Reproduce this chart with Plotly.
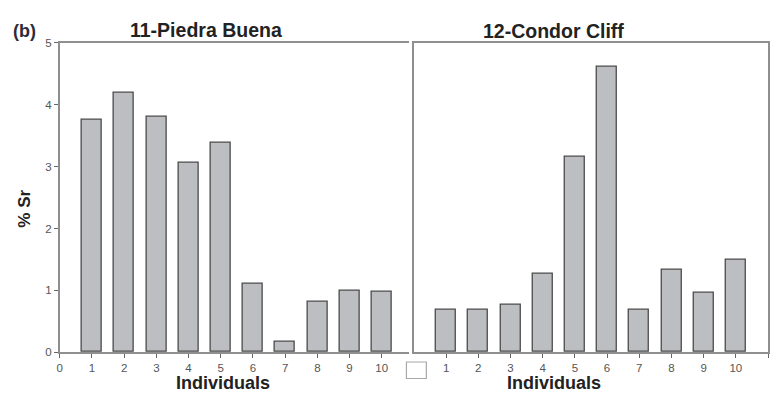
import plotly.graph_objects as go

individuals = [1, 2, 3, 4, 5, 6, 7, 8, 9, 10]
piedra_buena = [3.75, 4.20, 3.80, 3.06, 3.38, 1.10, 0.17, 0.82, 1.00, 0.98]
condor_cliff = [0.69, 0.69, 0.77, 1.26, 3.15, 4.61, 0.69, 1.33, 0.96, 1.49]
left_ticks = [0, 1, 2, 3, 4, 5, 6, 7, 8, 9, 10]
right_ticks = [1, 2, 3, 4, 5, 6, 7, 8, 9, 10, 11]
y_ticks = [0, 1, 2, 3, 4, 5]

W, H = 773, 400
BAR_FILL = "#bdbec2"
BAR_LINE = "#4a4a4a"
AXIS = "#8f8f8f"
TICKFONT = dict(family="Liberation Sans, Arial, sans-serif", size=11.5, color="#555555")
BOLD = "Liberation Sans, Arial, sans-serif"

def px(x):
    return x / W

def py(y):
    return 1 - y / H

fig = go.Figure()
fig.add_trace(go.Bar(x=individuals, y=piedra_buena, width=0.62,
                     marker=dict(color=BAR_FILL, line=dict(color=BAR_LINE, width=1.3)),
                     xaxis="x", yaxis="y", showlegend=False))
fig.add_trace(go.Bar(x=individuals, y=condor_cliff, width=0.62,
                     marker=dict(color=BAR_FILL, line=dict(color=BAR_LINE, width=1.3)),
                     xaxis="x2", yaxis="y2", showlegend=False))

ydom = [py(357), py(38)]
fig.update_layout(
    width=W, height=H,
    margin=dict(l=0, r=0, t=0, b=0),
    paper_bgcolor="white", plot_bgcolor="white",
    bargap=0,
    xaxis=dict(domain=[px(57), px(408)], range=[0, 10.86], anchor="y",
               tickvals=left_ticks, ticktext=[str(v) for v in left_ticks],
               showline=True, linecolor=AXIS, linewidth=1.5, mirror=True,
               ticks="outside", ticklen=4, tickcolor="#666", tickwidth=1.2,
               showgrid=False, zeroline=False, tickfont=TICKFONT),
    yaxis=dict(domain=ydom, range=[0, 5], anchor="x",
               tickvals=y_ticks, ticktext=[str(v) for v in y_ticks],
               showline=True, linecolor=AXIS, linewidth=1.5,
               ticks="outside", ticklen=4, tickcolor="#666", tickwidth=1.2,
               showgrid=False, zeroline=False, tickfont=TICKFONT),
    xaxis2=dict(domain=[px(412.5), px(768)], range=[0, 11], anchor="y2",
                tickvals=right_ticks, ticktext=[str(v) for v in right_ticks],
                showline=True, linecolor=AXIS, linewidth=1.5, mirror=True,
                ticks="outside", ticklen=4, tickcolor="#666", tickwidth=1.2,
                showgrid=False, zeroline=False, tickfont=TICKFONT),
    yaxis2=dict(domain=ydom, range=[0, 5], anchor="x2",
                showline=True, linecolor=AXIS, linewidth=1.5, mirror=True,
                showticklabels=False, ticks="",
                showgrid=False, zeroline=False),
    annotations=[
        dict(text="<b>(b)</b>", x=px(8), y=py(25.5), xref="paper", yref="paper",
             xanchor="left", yanchor="middle", showarrow=False,
             font=dict(family=BOLD, size=18, color="#2b2b3a")),
        dict(text="<b>11-Piedra Buena</b>", x=px(204), y=py(25), xref="paper", yref="paper",
             xanchor="center", yanchor="middle", showarrow=False,
             font=dict(family=BOLD, size=19.5, color="#222222")),
        dict(text="<b>12-Condor Cliff</b>", x=px(553), y=py(25.5), xref="paper", yref="paper",
             xanchor="center", yanchor="middle", showarrow=False,
             font=dict(family=BOLD, size=19.5, color="#222222")),
        dict(text="<b>Individuals</b>", x=px(221), y=0, xref="paper", yref="paper",
             xanchor="center", yanchor="bottom", showarrow=False, borderpad=0,
             font=dict(family=BOLD, size=18, color="#222222")),
        dict(text="<b>Individuals</b>", x=px(553), y=0, xref="paper", yref="paper",
             xanchor="center", yanchor="bottom", showarrow=False, borderpad=0,
             font=dict(family=BOLD, size=18, color="#222222")),
        dict(text="<b>% Sr</b>", x=px(22), y=py(209), xref="paper", yref="paper",
             xanchor="center", yanchor="middle", showarrow=False, textangle=-90,
             font=dict(family=BOLD, size=17, color="#222222")),
    ],
    shapes=[
        dict(type="rect", xref="paper", yref="paper",
             x0=px(405), x1=px(425), y0=py(384), y1=py(367),
             line=dict(color="#a8a8a8", width=1.2), fillcolor="white"),
    ],
)

fig.write_html("out.html",
               config={"responsive": False, "displayModeBar": False},
               post_script="document.body.style.margin='0px';document.body.style.padding='0px';document.body.style.overflow='hidden';")
